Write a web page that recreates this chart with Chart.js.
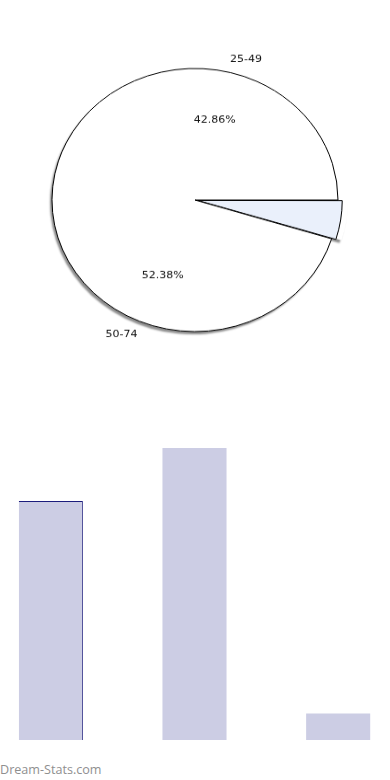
<!DOCTYPE html>
<html>
<head>
<meta charset="utf-8">
<script src="https://cdn.jsdelivr.net/npm/chart.js@4/dist/chart.umd.min.js"></script>
<style>
    html, body { margin: 0; padding: 0; background: #fff; width: 390px; height: 780px; overflow: hidden; }
    #pieBox { position: absolute; left: 0; top: 40px; width: 390px; height: 320px; transform: scaleY(0.92); transform-origin: 50% 50%; }
    #barBox { position: absolute; left: -21px; top: 448px; width: 431px; height: 292px; }
    #brand { position: absolute; left: 0; top: 761px; font: 12.6px "Open Sans", sans-serif; color: #8f8f8f; }
</style>
</head>
<body>
<div id="pieBox"><canvas id="pieChart"></canvas></div>
<div id="barBox"><canvas id="barChart"></canvas></div>
<div id="brand">Dream-Stats.com</div>
<script>
// age groups and how many people fall in each
const ageGroups = ["25-49", "50-74", "75-99"];
const counts = [9, 11, 1];
const sliceColors = ["#ffffff", "#ffffff", "#eaf0fb"];
const sliceOffsets = [0, 0, 10];

// the pie in the picture runs counter clockwise from the right, chart.js goes clockwise
const pieLabels = ageGroups.slice().reverse();
const pieValues = counts.slice().reverse();
const pieColors = sliceColors.slice().reverse();
const pieOffsets = sliceOffsets.slice().reverse();

const total = counts.reduce((a, b) => a + b, 0);
const isSmall = (v) => v / total < 0.1;

const sliceCenter = (arc, i) => {
    let p = arc.getProps(["x", "y", "startAngle", "endAngle", "outerRadius"], true);
    let mid = (p.startAngle + p.endAngle) / 2;
    return {
        cx: p.x + Math.cos(mid) * pieOffsets[i],
        cy: p.y + Math.sin(mid) * pieOffsets[i],
        ...p
    };
};

// shadow pass first as one path, the real slices then cover the inside of it
const pieShadow = {
    id: "pieShadow",
    beforeDatasetsDraw(chart) {
        let ctx = chart.ctx;
        ctx.save();
        ctx.shadowColor = "rgba(0,0,0,0.45)";
        ctx.shadowBlur = 2;
        ctx.shadowOffsetX = -2;
        ctx.shadowOffsetY = 3;
        ctx.fillStyle = "#fff";
        ctx.beginPath();
        chart.getDatasetMeta(0).data.forEach((arc, i) => {
            let s = sliceCenter(arc, i);
            ctx.moveTo(s.cx, s.cy);
            ctx.arc(s.cx, s.cy, s.outerRadius, s.startAngle, s.endAngle);
            ctx.closePath();
        });
        ctx.fill("nonzero");
        ctx.restore();
    }
};

// big slices: outline only the rim and the edges next to the small slice
const pieOutline = {
    id: "pieOutline",
    afterDatasetsDraw(chart) {
        let ctx = chart.ctx;
        let meta = chart.getDatasetMeta(0);
        let n = meta.data.length;
        ctx.save();
        ctx.strokeStyle = "#000";
        ctx.lineWidth = 1;
        meta.data.forEach((arc, i) => {
            if (isSmall(pieValues[i])) return;
            let s = sliceCenter(arc, i);
            let r = s.outerRadius;
            let prevSmall = isSmall(pieValues[(i - 1 + n) % n]);
            let nextSmall = isSmall(pieValues[(i + 1) % n]);
            ctx.beginPath();
            if (prevSmall) {
                ctx.moveTo(s.cx, s.cy);
                ctx.lineTo(s.cx + Math.cos(s.startAngle) * r, s.cy + Math.sin(s.startAngle) * r);
            } else {
                ctx.moveTo(s.cx + Math.cos(s.startAngle) * r, s.cy + Math.sin(s.startAngle) * r);
            }
            ctx.arc(s.cx, s.cy, r, s.startAngle, s.endAngle);
            if (nextSmall) ctx.lineTo(s.cx, s.cy);
            ctx.stroke();
        });
        ctx.restore();
    }
};

const pieText = {
    id: "pieText",
    afterDatasetsDraw(chart) {
        let ctx = chart.ctx;
        let meta = chart.getDatasetMeta(0);
        ctx.save();
        ctx.font = "11px 'DejaVu Sans'";
        ctx.fillStyle = "#111";
        ctx.textBaseline = "middle";
        meta.data.forEach((arc, i) => {
            if (isSmall(pieValues[i])) return;
            let pct = pieValues[i] / total * 100;
            let p = arc.getProps(["x", "y", "startAngle", "endAngle", "outerRadius"], true);
            let mid = (p.startAngle + p.endAngle) / 2;
            let cos = Math.cos(mid), sin = Math.sin(mid);

            ctx.textAlign = "center";
            ctx.fillText(pct.toFixed(2) + "%", p.x + cos * p.outerRadius * 0.62, p.y + sin * p.outerRadius * 0.62);

            ctx.textAlign = cos >= 0 ? "left" : "right";
            ctx.fillText(pieLabels[i], p.x + cos * p.outerRadius * 1.1, p.y + sin * p.outerRadius * 1.1);
        });
        ctx.restore();
    }
};

new Chart(document.querySelector("#pieChart").getContext("2d"), {
    type: "pie",
    data: {
        labels: pieLabels,
        datasets: [{
            data: pieValues,
            backgroundColor: pieColors,
            borderColor: "#000",
            borderWidth: pieValues.map(v => isSmall(v) ? 1 : 0),
            offset: pieOffsets
        }]
    },
    options: {
        responsive: true,
        maintainAspectRatio: false,
        animation: false,
        rotation: 90,
        radius: 143,
        layout: { padding: { right: 0 } },
        plugins: {
            legend: { display: false },
            tooltip: { enabled: false }
        }
    },
    plugins: [pieShadow, pieOutline, pieText]
});

new Chart(document.querySelector("#barChart").getContext("2d"), {
    type: "bar",
    data: {
        labels: ageGroups,
        datasets: [{
            data: counts,
            backgroundColor: "rgb(204,205,228)",
            borderColor: "#1c1c7c",
            borderWidth: [{ top: 1, right: 1, bottom: 0, left: 0 }, 0, 0],
            borderSkipped: false,
            categoryPercentage: 1,
            barPercentage: 0.446
        }]
    },
    options: {
        responsive: true,
        maintainAspectRatio: false,
        animation: false,
        layout: { padding: 0 },
        scales: {
            x: { display: false },
            y: { display: false, min: 0, max: 11 }
        },
        plugins: {
            legend: { display: false },
            tooltip: { enabled: false }
        }
    }
});
</script>
</body>
</html>
